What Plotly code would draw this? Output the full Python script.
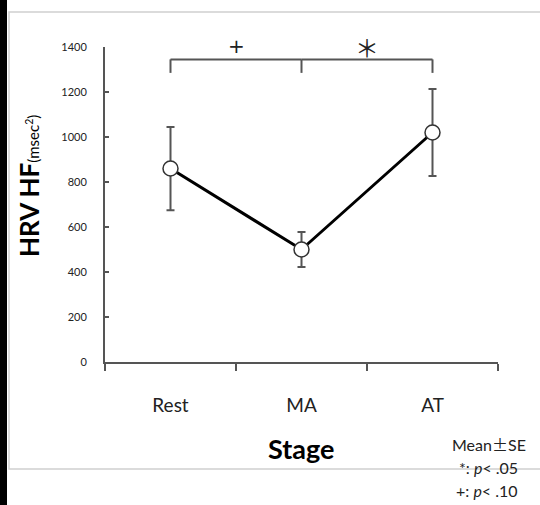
import plotly.graph_objects as go

stages = ["Rest", "MA", "AT"]
means = [860, 500, 1020]
se = [185, 78, 193]
y_ticks = [0, 200, 400, 600, 800, 1000, 1200, 1400]
bracket_level = 1345
bracket_drop = 1285
sig_marks = ["+", "＊"]

W, H = 540, 505
L, R, T, B = 105, 42, 47, 143
pw, ph = W - L - R, H - T - B

def px_x(x):
    return (x - L) / pw

def px_y(y):
    return 1 - (y - T) / ph

fig = go.Figure()
fig.add_trace(go.Scatter(
    x=stages, y=means, mode="lines+markers",
    line=dict(color="black", width=3),
    marker=dict(symbol="circle", size=15, color="white", line=dict(color="#333", width=1.5)),
    error_y=dict(type="data", array=se, visible=True, color="#555", thickness=2, width=4),
    cliponaxis=False, showlegend=False,
))

shapes = []
# faint border box
shapes.append(dict(type="rect", xref="paper", yref="paper", x0=px_x(9), x1=px_x(560), y0=px_y(469), y1=px_y(12),
                   line=dict(color="#d0d0d0", width=1.5), fillcolor="rgba(0,0,0,0)", layer="below"))
# significance brackets
for i in range(2):
    shapes.append(dict(type="line", xref="x", yref="y", x0=i, x1=i + 1, y0=bracket_level, y1=bracket_level,
                       line=dict(color="#555", width=2)))
for i in range(3):
    shapes.append(dict(type="line", xref="x", yref="y", x0=i, x1=i, y0=bracket_level, y1=bracket_drop,
                       line=dict(color="#555", width=2)))

annotations = []
# black strip at left edge
annotations.append(dict(x=px_x(0), y=px_y(0), xref="paper", yref="paper", xanchor="left", yanchor="top",
                        text=" ", showarrow=False, width=7, height=505, bgcolor="black", borderpad=0,
                        borderwidth=0))
for i, m in enumerate(sig_marks):
    annotations.append(dict(x=i + 0.5, y=bracket_level, xref="x", yref="y", text=m, showarrow=False,
                            xanchor="center", yanchor="middle", yshift=13,
                            font=dict(family="DejaVu Sans" if m == "+" else "Noto Sans CJK JP",
                                      size=20 if m == "+" else 24, color="#222")))
annotations.append(dict(x=px_x(29), y=px_y(186), xref="paper", yref="paper", textangle=-90, showarrow=False,
                        xanchor="center", yanchor="middle",
                        text="<b>HRV HF</b><span style='font-size:15px'>(msec<sup>2</sup>)</span>",
                        font=dict(family="Lato", size=26, color="black")))
annotations.append(dict(x=px_x(301), y=px_y(449), xref="paper", yref="paper", showarrow=False,
                        xanchor="center", yanchor="middle",
                        text="<b>Stage</b>", font=dict(family="Lato", size=27, color="black")))
annotations.append(dict(x=px_x(528), y=px_y(444), xref="paper", yref="paper", showarrow=False,
                        xanchor="right", yanchor="middle",
                        text="Mean<span style='font-family:Noto Sans CJK JP'>±</span>SE",
                        font=dict(family="Lato", size=16, color="#222")))
annotations.append(dict(x=px_x(520), y=px_y(467), xref="paper", yref="paper", showarrow=False,
                        xanchor="right", yanchor="middle",
                        text="*: <i>p</i>< .05", font=dict(family="Lato", size=16, color="#222")))
annotations.append(dict(x=px_x(520), y=px_y(490), xref="paper", yref="paper", showarrow=False,
                        xanchor="right", yanchor="middle",
                        text="+: <i>p</i>< .10", font=dict(family="Lato", size=16, color="#222")))

fig.update_layout(
    width=W, height=H, margin=dict(l=L, r=R, t=T, b=B),
    paper_bgcolor="white", plot_bgcolor="white",
    shapes=shapes, annotations=annotations,
    xaxis=dict(type="category", categoryorder="array", categoryarray=stages, range=[-0.5, 2.5],
               showline=True, linecolor="#555", linewidth=2, tickson="boundaries",
               ticks="outside", ticklen=7, tickwidth=2, tickcolor="#555",
               showgrid=False, zeroline=False, ticklabelstandoff=25,
               tickfont=dict(family="Lato", size=19, color="#222")),
    yaxis=dict(range=[0, 1400], tickvals=y_ticks, showline=True, linecolor="#555", linewidth=2,
               ticks="inside", ticklen=4, tickwidth=2, tickcolor="#555",
               showgrid=False, zeroline=False, ticklabelstandoff=14,
               tickfont=dict(family="Lato", size=11, color="#222")),
)
fig.write_html("out.html")
